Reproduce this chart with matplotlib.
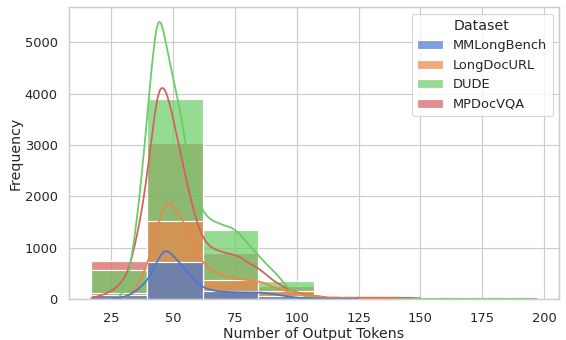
import numpy as np
import pandas as pd
import matplotlib
matplotlib.use("Agg")
import matplotlib.pyplot as plt
import seaborn as sns

datasets = ["MMLongBench", "LongDocURL", "DUDE", "MPDocVQA"]

# histogram: 8 equal bins from 17 to 197 output tokens
bin_lo, bin_hi, n_bins = 17, 197, 8
mmlongbench_counts = [70, 715, 150, 62, 5, 1, 0, 0]
longdocurl_counts = [110, 1520, 372, 155, 8, 3, 1, 0]
dude_counts = [569, 3897, 1335, 355, 12, 5, 3, 2]
mpdocvqa_counts = [744, 3029, 900, 246, 15, 8, 1, 0]

# answers per token-length bucket, used for the smoothed curves
kde_tokens = [17, 20, 23, 26, 29, 32, 35, 38, 41, 44, 47, 50, 53, 56, 59, 62,
              65, 68, 71, 74, 77, 80, 83, 86, 89, 92, 95, 98, 101, 104, 107,
              110, 115, 120, 125, 130, 135, 140, 145, 150, 160, 170, 180, 190, 197]
mmlongbench_kde = [0, 0, 0, 0.5, 3.5, 8.8, 20, 37, 59, 105, 135, 112, 93, 69, 45, 30,
                   24, 20, 18.4, 17.7, 17.3, 17.3, 17.3, 17, 14, 11.5, 7.9, 5.2, 3.2, 2, 1.3,
                   1, 0.8, 0.5, 0.3, 0, 0, 0, 0, 0, 0, 0, 0, 0, 0]
longdocurl_kde = [0, 0, 0, 0, 0.7, 4.7, 27.7, 62.8, 116.5, 191.7, 266.7, 240.3, 216, 179, 131.9, 91.3,
                  79.5, 65.2, 59.7, 54.3, 51, 49.3, 47.7, 44.3, 35.2, 27.7, 21.7, 17.3, 12.4, 9.1, 7.3,
                  7, 5.5, 3.5, 2.5, 2, 1.5, 1, 0, 0, 0, 0, 0, 0, 0]
dude_kde = [0, 0, 0, 0.3, 1.3, 48, 176, 353, 579, 780, 669, 573, 494, 359, 271, 227,
            205, 198, 190, 186, 169, 145, 124, 103, 82, 65, 39, 21, 11, 6, 4,
            3, 2, 1.5, 1.2, 1, 1, 1, 1, 1, 1, 1, 1, 1, 0.5]
mpdocvqa_kde = [2, 7.7, 13.7, 23.6, 40.8, 68, 148, 245, 394, 565, 555, 472, 380, 291, 211, 157,
                134, 126, 120, 116, 111, 95, 86, 73, 55, 42, 30, 23, 15, 10, 8,
                7, 6, 5.5, 5.5, 5.5, 5.5, 5.5, 5, 3, 0, 0, 0, 0, 0]

edges = np.linspace(bin_lo, bin_hi, n_bins + 1)
centers = (edges[:-1] + edges[1:]) / 2
binw = edges[1] - edges[0]

rows = []
for name, counts in zip(datasets, [mmlongbench_counts, longdocurl_counts,
                                   dude_counts, mpdocvqa_counts]):
    for c, n in zip(centers, counts):
        rows.append((name, c, n))
df = pd.DataFrame(rows, columns=["Dataset", "tokens", "count"])

sns.set_theme(style="whitegrid")
fig, ax = plt.subplots(figsize=(566 / 85, 340 / 85), dpi=85)
sns.histplot(data=df, x="tokens", weights="count", hue="Dataset", hue_order=datasets,
             bins=n_bins, binrange=(bin_lo, bin_hi), palette="muted", alpha=0.7, ax=ax)
sns.move_legend(ax, "upper right")

# gaussian smoothing of the bucket counts, scaled to the bin width
palette = sns.color_palette("muted", len(datasets))
tok = np.array(kde_tokens, dtype=float)
bw = 2.0
curves = [mmlongbench_kde, longdocurl_kde, dude_kde, mpdocvqa_kde]
for w, color in reversed(list(zip(curves, palette))):
    w = np.array(w, dtype=float)
    nz = np.nonzero(w)[0]
    xs = np.linspace(tok[nz[0]], tok[nz[-1]], 500)
    k = np.exp(-0.5 * ((xs[:, None] - tok[None, :]) / bw) ** 2) / (bw * np.sqrt(2 * np.pi))
    ax.plot(xs, (k * w[None, :]).sum(axis=1) * binw, color=color, lw=1.5)

ax.set_xlim(8, 206)
ax.set_ylim(0, 5680)
ax.set_xlabel("Number of Output Tokens", labelpad=1.5)
ax.set_ylabel("Frequency", labelpad=2)
ax.tick_params(axis="x", pad=5)

fig.subplots_adjust(left=69 / 566, right=559 / 566, top=1 - 7.3 / 340, bottom=1 - 299 / 340)
fig.savefig("out.png", dpi=85)
